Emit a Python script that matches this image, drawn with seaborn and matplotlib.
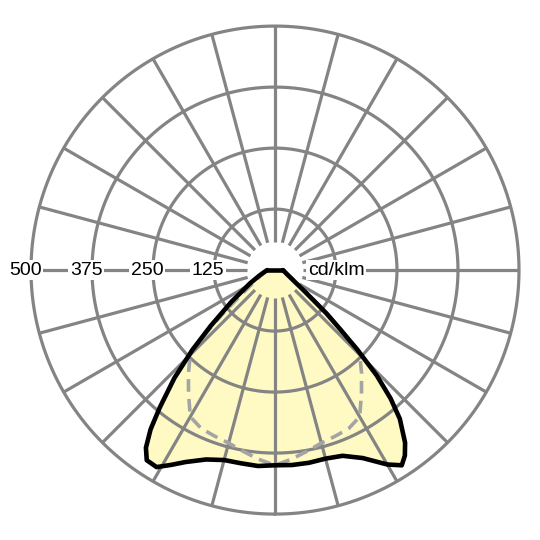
import numpy as np
import pandas as pd
import matplotlib
matplotlib.use("Agg")
import matplotlib.pyplot as plt
import seaborn as sns

# luminous intensity, cd/klm, gamma in degrees from nadir
# C0 plane (right half of solid curve)
c0_gamma = [0, 5, 10, 15, 20, 25, 30, 33, 35, 37, 40, 42, 44, 46, 48, 50, 55, 60, 70, 80, 90]
c0_cd = [400, 401, 401, 400, 405, 425, 460, 477, 464, 443, 398, 354, 300, 234, 175, 136, 70, 45, 27, 20, 16]

# C180 plane (left half of solid curve)
c180_gamma = [0, 5, 10, 15, 20, 25, 28, 31, 34, 36, 38, 40, 43, 46, 49, 54, 62, 70, 80, 90]
c180_cd = [400, 403, 402, 403, 413, 434, 452, 471, 470, 450, 414, 367, 302, 235, 175, 110, 58, 35, 22, 16]

# C90 / C270 plane (dashed, symmetric)
c90_gamma = [0, 5, 10, 15, 20, 25, 30, 35, 40, 44, 46, 48, 50, 55, 60, 70, 80, 90]
c90_cd = [400, 389, 377, 367, 362, 358, 347, 309, 276, 251, 238, 180, 142, 76, 50, 30, 21, 17]

rings = [125, 250, 375, 500]
ring_labels = ["125", "250", "375", "500"]
unit_label = "cd/klm"

###Build the curves (left half mirrored to negative angles)###
solid = pd.DataFrame({
    "theta": np.deg2rad(np.r_[-np.array(c180_gamma[::-1]), c0_gamma[1:]]),
    "cd": np.r_[c180_cd[::-1], c0_cd[1:]],
})
dashed = pd.DataFrame({
    "theta": np.deg2rad(np.r_[-np.array(c90_gamma[::-1]), c90_gamma[1:]]),
    "cd": np.r_[c90_cd[::-1], c90_cd[1:]],
})

sns.set_theme(style="white")
plt.rcParams["font.family"] = ["Liberation Sans", "DejaVu Sans"]

fig = plt.figure(figsize=(5.4, 5.4), dpi=100)
ax = fig.add_axes([0.0574, 0.048, 0.9037, 0.9037], projection="polar")
ax.set_theta_zero_location("S")
ax.set_theta_direction(1)
ax.set_ylim(0, 500)
ax.grid(False)
ax.set_xticks([])
ax.set_yticks([])
ax.spines["polar"].set_visible(False)

###Fill under the C0-C180 curve###
ax.fill(solid["theta"], solid["cd"], color="#fffac3", lw=0, zorder=1)

###Grid: rings and 15 degree spokes###
grid_col = "#848484"
circle = np.linspace(0, 2 * np.pi, 721)
for r in rings:
    ax.plot(circle, np.full_like(circle, r), color=grid_col, lw=2.3, zorder=2, clip_on=False)
for a in range(0, 360, 15):
    ax.plot([np.deg2rad(a)] * 2, [58, 500], color=grid_col, lw=2.3, zorder=2,
            solid_capstyle="butt", clip_on=False)

###Curves###
sns.lineplot(data=dashed, x="theta", y="cd", sort=False, estimator=None, ax=ax,
             color="#a4a4a4", lw=2.6, linestyle=(0, (3.5, 2)), zorder=3)
sns.lineplot(data=solid, x="theta", y="cd", sort=False, estimator=None, ax=ax,
             color="black", lw=3.3, zorder=4, solid_joinstyle="round")
# close the top through the light centre
ax.plot([solid["theta"].iloc[-1], solid["theta"].iloc[0]],
        [solid["cd"].iloc[-1], solid["cd"].iloc[0]], color="black", lw=3.3, zorder=4)

ax.set_xlabel("")
ax.set_ylabel("")

###Labels###
box = dict(fc="white", ec="none", pad=1.2)
for r, lab in zip(rings, ring_labels):
    ax.text(np.deg2rad(-90), r + 12, lab, ha="center", va="center", fontsize=14,
            color="black", bbox=box, zorder=5)
ax.text(np.deg2rad(90), 125, unit_label, ha="center", va="center", fontsize=14,
        color="black", bbox=box, zorder=5)

plt.savefig("out.png", dpi=100, facecolor="white")
